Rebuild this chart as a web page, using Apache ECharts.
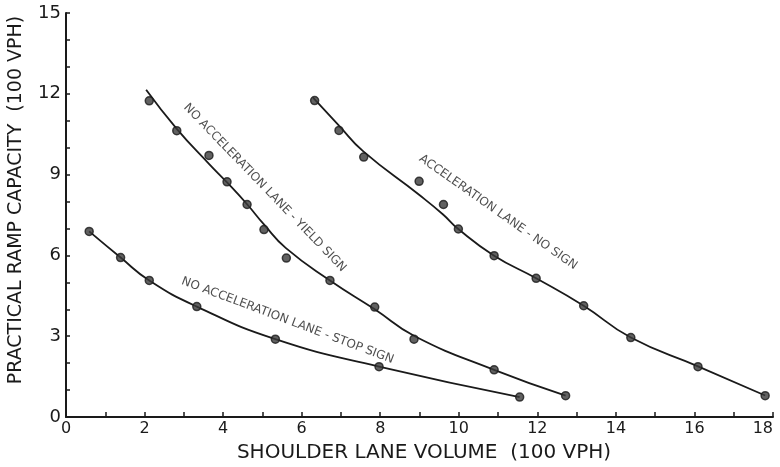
<!DOCTYPE html>
<html>
<head>
<meta charset="utf-8">
<script src="https://cdn.jsdelivr.net/npm/echarts@6/dist/echarts.min.js"></script>
<style>
  html, body { margin: 0; padding: 0; background: #fff; }
  #chart { width: 780px; height: 467px; }
</style>
</head>
<body>
<div id="chart"></div>
<script>
// observed points (shoulder lane volume, ramp capacity), 100 vph
const stopX = [0.59, 1.39, 2.12, 3.33, 5.33, 7.97, 11.55];
const stopY = [6.89, 5.92, 5.07, 4.10, 2.89, 1.87, 0.74];

const yieldX = [2.12, 2.82, 3.64, 4.10, 4.61, 5.04, 5.61, 6.72, 7.86, 8.86, 10.90, 12.72];
const yieldY = [11.74, 10.63, 9.71, 8.73, 7.89, 6.96, 5.90, 5.07, 4.08, 2.89, 1.75, 0.79];

const noSignX = [6.33, 6.95, 7.58, 8.99, 9.61, 9.99, 10.90, 11.97, 13.18, 14.38, 16.09, 17.80];
const noSignY = [11.75, 10.64, 9.65, 8.75, 7.89, 6.98, 5.99, 5.15, 4.13, 2.95, 1.87, 0.79];

// fitted curves as drawn
const stopCurveX = [0.59, 1.39, 2.12, 3.33, 5.33, 7.97, 11.55];
const stopCurveY = [6.89, 5.92, 5.07, 4.10, 2.89, 1.87, 0.74];

const yieldCurveX = [2.04, 2.82, 3.64, 4.10, 4.61, 5.04, 5.60, 6.72, 7.86, 8.88, 10.90, 12.72];
const yieldCurveY = [12.15, 10.70, 9.40, 8.71, 7.90, 7.15, 6.27, 5.07, 4.00, 3.00, 1.75, 0.79];

const noSignCurveX = [6.29, 6.95, 7.57, 8.99, 9.60, 9.98, 10.89, 11.97, 13.18, 14.38, 16.09, 17.80];
const noSignCurveY = [11.86, 10.82, 9.86, 8.25, 7.52, 6.99, 6.00, 5.15, 4.13, 2.95, 1.88, 0.80];

// curve captions: text, anchor (x, y), angle
const captionText = ['NO ACCELERATION LANE - YIELD SIGN', 'NO ACCELERATION LANE - STOP SIGN', 'ACCELERATION LANE - NO SIGN'];
const captionX = [5.06, 5.64, 11.0];
const captionY = [8.51, 3.58, 7.60];
const captionAngle = [-46, -20.6, -35.2];

const xMin = 0, xMax = 18;
const yMin = 0, yMax = 15;

const zip = (xs, ys) => xs.map((x, i) => [x, ys[i]]);

const font = 'DejaVu Sans';
const ink = '#1a1a1a';

function curve(name, xs, ys) {
    return {
        name: name,
        type: 'line',
        data: zip(xs, ys),
        smooth: 0.5,
        symbol: 'none',
        lineStyle: { color: ink, width: 1.8 },
        z: 2
    };
}

function dots(name, xs, ys) {
    return {
        name: name,
        type: 'scatter',
        data: zip(xs, ys),
        symbol: 'circle',
        symbolSize: 8,
        itemStyle: { color: '#3a3a3a', borderColor: ink, borderWidth: 1.5 },
        z: 3
    };
}

let chart = echarts.init(document.getElementById('chart'), null, { renderer: 'canvas' });

let option = {
    animation: false,
    backgroundColor: '#fff',
    grid: { left: 66, right: 7, top: 13, bottom: 50, containLabel: false, outerBoundsMode: 'none' },
    xAxis: {
        type: 'value',
        min: xMin,
        max: xMax,
        interval: 1,
        name: 'SHOULDER LANE VOLUME  (100 VPH)',
        nameLocation: 'middle',
        nameGap: 26,
        nameMoveOverlap: false,
        nameTextStyle: { fontFamily: font, fontSize: 20, color: ink, padding: [0, 0, 0, 9] },
        axisLine: { show: true, onZero: false, lineStyle: { color: ink, width: 2 } },
        axisTick: { show: true, inside: true, length: 5, lineStyle: { color: ink, width: 1.5 } },
        axisLabel: {
            fontFamily: font, fontSize: 16, color: ink, margin: 4,
            alignMaxLabel: 'right',
            formatter: v => (v % 2 === 0 ? String(v) : '')
        },
        splitLine: { show: false }
    },
    yAxis: {
        type: 'value',
        min: yMin,
        max: yMax,
        interval: 1,
        name: 'PRACTICAL RAMP CAPACITY  (100 VPH)',
        nameLocation: 'middle',
        nameGap: 40,
        nameMoveOverlap: false,
        nameTextStyle: { fontFamily: font, fontSize: 19, color: ink, padding: [0, 0, 0, 30] },
        axisLine: { show: true, onZero: false, lineStyle: { color: ink, width: 2 } },
        axisTick: { show: true, inside: true, length: 4, lineStyle: { color: ink, width: 1.5 } },
        axisLabel: {
            fontFamily: font, fontSize: 18, color: ink, margin: 5,
            formatter: v => (v % 3 === 0 ? String(v) : '')
        },
        splitLine: { show: false }
    },
    series: [
        curve('stop curve', stopCurveX, stopCurveY),
        curve('yield curve', yieldCurveX, yieldCurveY),
        curve('no sign curve', noSignCurveX, noSignCurveY),
        dots('stop', stopX, stopY),
        dots('yield', yieldX, yieldY),
        dots('no sign', noSignX, noSignY),
        {
            name: 'captions',
            type: 'scatter',
            symbolSize: 0,
            silent: true,
            data: captionText.map((t, i) => ({
                value: [captionX[i], captionY[i]],
                name: t,
                label: { rotate: captionAngle[i] }
            })),
            label: {
                show: true,
                position: 'inside',
                formatter: p => p.name,
                fontFamily: font,
                fontSize: 12,
                color: '#222'
            },
            z: 4
        }
    ]
};

chart.setOption(option);
</script>
</body>
</html>
